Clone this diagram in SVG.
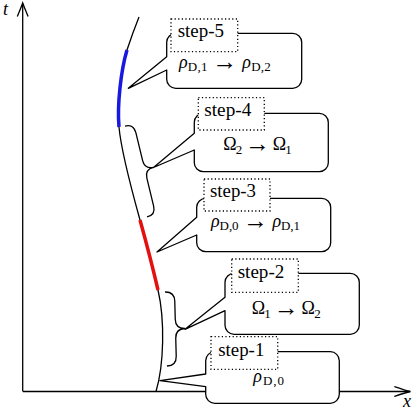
<svg xmlns="http://www.w3.org/2000/svg" width="416" height="412" viewBox="0 0 416 412">
<style>
.ax{fill:none;stroke:#000;stroke-width:1.3}
.cv{fill:none;stroke:#000;stroke-width:1.3}
.box{fill:#fff;stroke:#000;stroke-width:1.3;stroke-linejoin:round}
.ttl{fill:#fff;stroke:#000;stroke-width:1.3;stroke-dasharray:1.2 2.4}
.it{font-style:italic}
.sub{font-size:13px}
.arr{font-size:25px}
</style>
<rect width="416" height="412" fill="#fff"/>
<g font-family="Liberation Serif, Times New Roman, DejaVu Serif, serif" font-size="18" fill="#000">
<g id="axes">
<path class="ax" d="M22.7,391.5 V3.5 M23,391.5 H410"/>
<path class="ax" d="M17.3,16.5 C19.5,11 21.5,6.5 22.7,3 C23.9,6.5 25.9,11 28.1,16.5"/>
<path class="ax" d="M394.3,386.5 C400,388.5 405,390.3 410.5,391.5 C405,392.7 400,394.5 394.3,396.5"/>
<text class="it" x="3" y="15">t</text>
<text class="it" x="403" y="406.5">x</text>
</g>
<g id="curve">
<path class="cv" d="M156,391.5 C164,365 165,320 158,290 C153.8,272 145,238 140,220 C135,202 121,150 119,127 C117,105 121,70 127,50 C131,38 135,27 139,17"/>
<path d="M158,290 C153.8,272 145,238 140,220" fill="none" stroke="#e41010" stroke-width="3.5"/>
<path d="M119,127 C117,105 121,70 127,50" fill="none" stroke="#1818e0" stroke-width="3.5"/>
</g>
<g id="braces">
<path class="cv" transform="translate(136,171.5) rotate(-13.6)" d="M0,-46.8 Q9,-46.8 9,-37.8 L9,-9 Q9,0 18,0 Q9,0 9,9 L9,37.8 Q9,46.8 0,46.8"/>
<path class="cv" transform="translate(166,329) rotate(-1.5)" d="M0,-37 Q9.5,-37 9.5,-27.5 L9.5,-9.5 Q9.5,0 19,0 Q9.5,0 9.5,9.5 L9.5,27.5 Q9.5,37 0,37"/>
</g>
<g id="connectors">
</g>
<g id="step5">
<path class="box" d="M175.7,33.3 H292.7 A9,9 0 0 1 301.7,42.3 V79.3 A9,9 0 0 1 292.7,88.3 H175.7 A9,9 0 0 1 166.7,79.3 V70 L128.3,88.3 L166.7,56.7 V42.3 A9,9 0 0 1 175.7,33.3 Z"/>
<rect class="ttl" x="171" y="19" width="66.7" height="32.7"/>
<text x="177.7" y="37" textLength="46.3" lengthAdjust="spacingAndGlyphs">step-5</text>
<text x="179" y="68" textLength="91.7" lengthAdjust="spacing"><tspan class="it">ρ</tspan><tspan class="sub" dy="3">D,1</tspan><tspan dy="-3"> </tspan><tspan class="arr" dy="2">→</tspan><tspan dy="-2"> </tspan><tspan class="it">ρ</tspan><tspan class="sub" dy="3">D,2</tspan></text>
</g>
<g id="step4">
<path class="box" d="M203.3,113.3 H319.3 A9,9 0 0 1 328.3,122.3 V162.7 A9,9 0 0 1 319.3,171.7 H203.3 A9,9 0 0 1 194.3,162.7 V150 L153.5,167.5 L194.3,133.3 V122.3 A9,9 0 0 1 203.3,113.3 Z"/>
<rect class="ttl" x="198.3" y="97.7" width="66" height="32.3"/>
<text x="204.3" y="115.5" textLength="47" lengthAdjust="spacingAndGlyphs">step-4</text>
<text x="223.3" y="150" textLength="68.4" lengthAdjust="spacing">Ω<tspan class="sub" dy="4">2</tspan><tspan dy="-4"> </tspan><tspan class="arr" dy="2">→</tspan><tspan dy="-2"> Ω</tspan><tspan class="sub" dy="4">1</tspan></text>
</g>
<g id="step3">
<path class="box" d="M205.7,198.3 H321.7 A9,9 0 0 1 330.7,207.3 V242.7 A9,9 0 0 1 321.7,251.7 H205.7 A9,9 0 0 1 196.7,242.7 V235 L157,252 L196.7,217.3 V207.3 A9,9 0 0 1 205.7,198.3 Z"/>
<rect class="ttl" x="204" y="179" width="66" height="32"/>
<text x="210" y="197.3" textLength="46" lengthAdjust="spacingAndGlyphs">step-3</text>
<text x="211" y="227" textLength="89" lengthAdjust="spacing"><tspan class="it">ρ</tspan><tspan class="sub" dy="3">D,0</tspan><tspan dy="-3"> </tspan><tspan class="arr" dy="2">→</tspan><tspan dy="-2"> </tspan><tspan class="it">ρ</tspan><tspan class="sub" dy="3">D,1</tspan></text>
</g>
<g id="step2">
<path class="box" d="M234,273.3 H350.3 A9,9 0 0 1 359.3,282.3 V325.3 A9,9 0 0 1 350.3,334.3 H234 A9,9 0 0 1 225,325.3 V310.7 L185,329.3 L225,297.3 V282.3 A9,9 0 0 1 234,273.3 Z"/>
<rect class="ttl" x="231.7" y="259" width="66.6" height="33.3"/>
<text x="237.7" y="277.7" textLength="46.6" lengthAdjust="spacingAndGlyphs">step-2</text>
<text x="251.7" y="314" textLength="69" lengthAdjust="spacing">Ω<tspan class="sub" dy="4">1</tspan><tspan dy="-4"> </tspan><tspan class="arr" dy="2">→</tspan><tspan dy="-2"> Ω</tspan><tspan class="sub" dy="4">2</tspan></text>
</g>
<g id="step1">
<path class="box" d="M214.7,351.7 H330.3 A9,9 0 0 1 339.3,360.7 V394.3 A9,9 0 0 1 330.3,403.3 H214.7 A9,9 0 0 1 205.7,394.3 V386.7 L160,380.7 L205.7,374 V360.7 A9,9 0 0 1 214.7,351.7 Z"/>
<rect class="ttl" x="211" y="336.7" width="66.7" height="32.6"/>
<text x="218.3" y="355.7" textLength="46" lengthAdjust="spacingAndGlyphs">step-1</text>
<text x="253.3" y="381.5" textLength="30.7" lengthAdjust="spacing"><tspan class="it">ρ</tspan><tspan class="sub" dy="3">D,0</tspan></text>
</g>
</g>
</svg>
